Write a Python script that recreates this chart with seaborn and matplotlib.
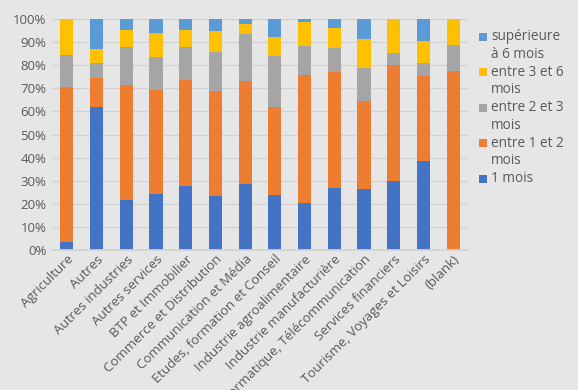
import numpy as np
import pandas as pd
import matplotlib
matplotlib.use("Agg")
import matplotlib.pyplot as plt
import seaborn as sns
from matplotlib.patches import Rectangle
from matplotlib.ticker import PercentFormatter

categories = ["Agriculture", "Autres", "Autres industries", "Autres services",
              "BTP et Immobilier", "Commerce et Distribution", "Communication et Média",
              "Etudes, formation et Conseil", "Industrie agroalimentaire",
              "Industrie manufacturière", "Informatique, Télécommunication",
              "Services financiers", "Tourisme, Voyages et Loisirs", "(blank)"]

un_mois = [3.5, 61.7, 21.7, 24.3, 27.8, 23.2, 28.7, 23.9, 20.3, 26.7, 26.2, 29.7, 38.7, 0.0]
entre_1_2 = [66.9, 12.6, 49.6, 45.0, 45.7, 45.6, 44.6, 38.1, 55.4, 50.5, 38.3, 50.4, 36.7, 77.7]
entre_2_3 = [13.9, 6.6, 16.5, 14.2, 14.2, 17.0, 20.0, 21.9, 12.7, 10.2, 14.3, 5.0, 5.5, 11.1]
entre_3_6 = [15.7, 6.3, 7.4, 10.6, 7.7, 9.0, 4.5, 8.1, 10.4, 8.5, 12.5, 14.9, 9.7, 11.2]
sup_6 = [0.0, 12.8, 4.8, 5.9, 4.6, 5.2, 2.2, 8.0, 1.2, 4.1, 8.7, 0.0, 9.4, 0.0]

series_names = ["1 mois", "entre 1 et 2\nmois", "entre 2 et 3\nmois", "entre 3 et 6\nmois", "supérieure\nà 6 mois"]
series_values = [un_mois, entre_1_2, entre_2_3, entre_3_6, sup_6]
colors = ["#4472C4", "#ED7D31", "#A5A5A5", "#FFC000", "#5B9BD5"]

sns.set_theme(style="white")
plt.rcParams['font.family'] = ['Open Sans', 'DejaVu Sans']

W, H = 578, 390
bg = "#E7E6E6"
fig = plt.figure(figsize=(W/100, H/100), dpi=100, facecolor=bg)
ax = fig.add_axes([52/W, 1 - 250/H, (468-52)/W, (250-19)/H])
ax.set_facecolor(bg)

cum = np.cumsum(np.array(series_values), axis=0)
# draw from top layer down so lower layers overdraw
for i in range(len(series_values) - 1, -1, -1):
    df = pd.DataFrame({"cat": categories, "val": cum[i]})
    sns.barplot(data=df, x="cat", y="val", color=colors[i], width=0.44,
                saturation=1, ax=ax, linewidth=0)

ax.set_ylim(0, 100)
ax.set_yticks(np.arange(0, 101, 10))
ax.yaxis.set_major_formatter(PercentFormatter(decimals=0))
ax.set_xlim(-0.5, len(categories) - 0.5)
ax.grid(axis="y", color="#D2D2D2", linewidth=0.9)
ax.set_axisbelow(True)
for s in ["top", "right", "left"]:
    ax.spines[s].set_visible(False)
ax.spines["bottom"].set_color("#D2D2D2")
ax.set_xlabel("")
ax.set_ylabel("")
ax.tick_params(axis="both", length=0, colors="#595959", labelsize=9.5)
ax.tick_params(axis="y", pad=4)
ax.set_xticks(range(len(categories)))
ax.set_xticklabels(categories, rotation=45, ha="right", rotation_mode="anchor", fontsize=9.5)
ax.tick_params(axis="x", pad=2)

# legend (manual, Excel-like: square aligned with first text line)
order = list(range(len(series_names) - 1, -1, -1))
y0, step, line_gap = 36.7, 35.5, 17.7
for k, i in enumerate(order):
    yc = y0 + k * step
    fig.patches.append(Rectangle((479/W, 1 - (yc + 4)/H), 8/W, 8/H,
                                 transform=fig.transFigure, facecolor=colors[i],
                                 edgecolor="none"))
    for j, line in enumerate(series_names[i].split("\n")):
        fig.text(491/W, 1 - (yc + j * line_gap)/H, line, ha="left", va="center",
                 fontsize=9.8, color="#595959")

fig.savefig("out.png", dpi=100, facecolor=bg)
